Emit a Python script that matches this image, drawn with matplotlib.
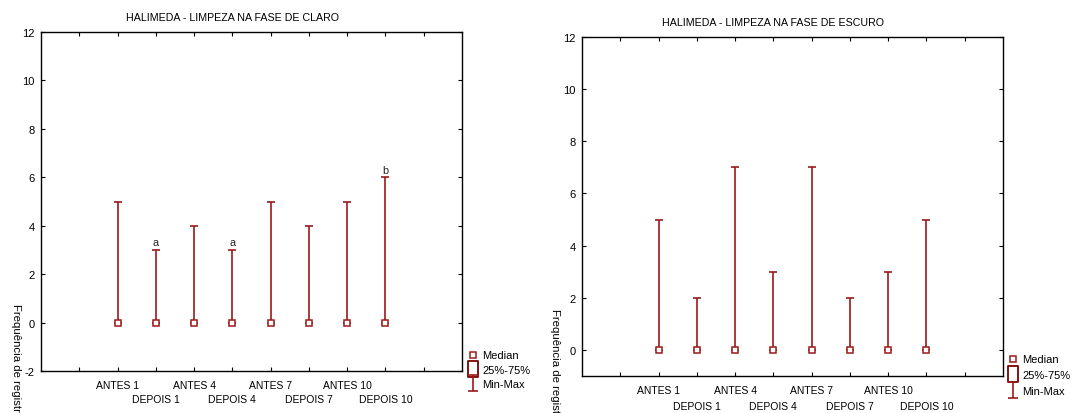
import matplotlib
matplotlib.use("Agg")
import matplotlib.pyplot as plt
import numpy as np
from matplotlib.path import Path
from matplotlib.lines import Line2D

plt.rcParams['font.family'] = ['Liberation Sans', 'DejaVu Sans']

categories = ['ANTES 1', 'DEPOIS 1', 'ANTES 4', 'DEPOIS 4',
              'ANTES 7', 'DEPOIS 7', 'ANTES 10', 'DEPOIS 10']

claro_median = [0, 0, 0, 0, 0, 0, 0, 0]
claro_min = [0, 0, 0, 0, 0, 0, 0, 0]
claro_max = [5, 3, 4, 3, 5, 4, 5, 6]
claro_letters = ['', 'a', '', 'a', '', '', '', 'b']

escuro_median = [0, 0, 0, 0, 0, 0, 0, 0]
escuro_min = [0, 0, 0, 0, 0, 0, 0, 0]
escuro_max = [5, 2, 7, 3, 7, 2, 3, 5]

title_claro = 'HALIMEDA - LIMPEZA NA FASE DE CLARO'
title_escuro = 'HALIMEDA - LIMPEZA NA FASE DE ESCURO'
ylabel = 'Frequência de registro'
legend_labels = ['Median', '25%-75%', 'Min-Max']

RED = '#9b1a1a'
W, H = 1075, 414
fig = plt.figure(figsize=(W / 100, H / 100), dpi=100)

def px_axes(l, r, t, b):
    return fig.add_axes([l / W, 1 - b / H, (r - l) / W, (b - t) / H])

box_marker = Path([(-0.35, -0.5), (0.35, -0.5), (0.35, 0.5), (-0.35, 0.5), (-0.35, -0.5)],
                  [Path.MOVETO, Path.LINETO, Path.LINETO, Path.LINETO, Path.CLOSEPOLY])
i_marker = Path([(-0.35, 0.5), (0.35, 0.5), (0, 0.5), (0, -0.5), (-0.35, -0.5), (0.35, -0.5)],
                [Path.MOVETO, Path.LINETO, Path.MOVETO, Path.LINETO, Path.MOVETO, Path.LINETO])

def panel(ax, med, mn, mx, ylim, yticks, title, title_xy, ylabel_xy, legend_xy,
          legend_spacing, xpad, row_gap, letters=None):
    x = np.arange(len(categories))
    med = np.array(med); mn = np.array(mn); mx = np.array(mx)
    ax.errorbar(x, med, yerr=[med - mn, mx - med], fmt='none', ecolor=RED,
                elinewidth=1.2, capsize=3.2, capthick=1.2, zorder=2)
    ax.plot(x, med, ls='none', marker='s', ms=4, mfc='white', mec=RED, mew=1.1, zorder=3)
    if letters:
        for xi, yi, t in zip(x, mx, letters):
            if t:
                ax.annotate(t, (xi, yi), xytext=(0, 2), textcoords='offset points',
                            ha='center', va='bottom', fontsize=7.8, color='#222222')
    ax.set_xlim(-2, 9)
    ax.set_ylim(*ylim)
    ax.set_yticks(yticks)
    ax.set_yticklabels([str(v) for v in yticks])
    ax.xaxis.remove_overlapping_locs = False
    ticks = list(range(-1, 9))
    ax.set_xticks(ticks)
    ax.set_xticklabels([categories[t] if (0 <= t < len(categories) and t % 2 == 0) else ''
                        for t in ticks])
    odd = [t for t in range(len(categories)) if t % 2 == 1]
    ax.set_xticks(odd, minor=True)
    ax.set_xticklabels([categories[t] for t in odd], minor=True)
    ax.tick_params(direction='in', length=3, width=0.8, top=True, right=True,
                   colors='black')
    ax.tick_params(axis='x', which='major', pad=xpad, labelsize=7.5)
    ax.tick_params(axis='x', which='minor', length=0, top=False, pad=xpad + row_gap,
                   labelsize=7.5)
    ax.tick_params(axis='y', pad=4.5, labelsize=8)
    for s in ax.spines.values():
        s.set_linewidth(1.0)
    fig.text(title_xy[0] / W, 1 - title_xy[1] / H, title, ha='center', va='center', fontsize=7.7)
    fig.text(ylabel_xy[0] / W, 1 - ylabel_xy[1] / H, ylabel, rotation=270,
             ha='center', va='top', fontsize=8.2)
    handles = [
        Line2D([], [], ls='none', marker='s', ms=4, mfc='white', mec=RED, mew=1.1),
        Line2D([], [], ls='none', marker=box_marker, ms=11, mfc='white', mec='#7a0000', mew=1.3),
        Line2D([], [], ls='none', marker=i_marker, ms=11, color=RED, mew=1.2),
    ]
    ax.legend(handles, legend_labels, loc='upper left',
              bbox_to_anchor=(legend_xy[0] / W, 1 - legend_xy[1] / H),
              bbox_transform=fig.transFigure, frameon=False, fontsize=8,
              handlelength=0.8, handletextpad=0.45, labelspacing=legend_spacing,
              borderpad=0, borderaxespad=0)

ax1 = px_axes(41, 462, 33, 372)
panel(ax1, claro_median, claro_min, claro_max, (-2, 12), list(range(-2, 13, 2)),
      title_claro, (232, 18), (15.5, 304), (468.5, 351.5), 0.37, 6.5, 10.0, claro_letters)

ax2 = px_axes(582, 1003, 38, 377)
panel(ax2, escuro_median, escuro_min, escuro_max, (-1, 12), list(range(0, 13, 2)),
      title_escuro, (773.5, 23), (555, 309), (1008.5, 355.5), 0.5, 6.5, 11.5)

fig.savefig('out.png', dpi=100)
